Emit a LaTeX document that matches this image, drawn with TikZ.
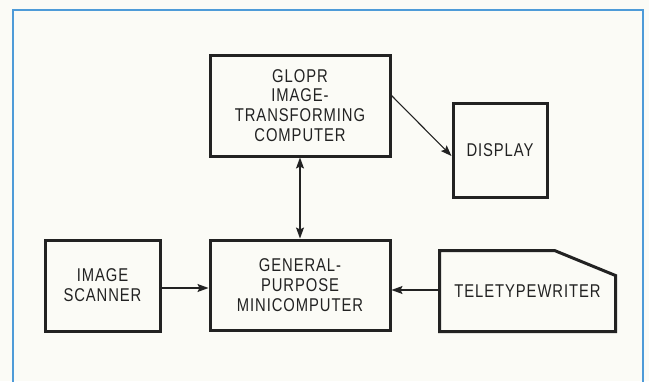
\documentclass[tikz,border=0pt]{standalone}
\usepackage{fontspec}
\setmainfont{Liberation Sans}[FakeStretch=0.8,LetterSpace=5]
\usetikzlibrary{arrows.meta,calc}
\definecolor{framebl}{HTML}{4E9BD8}
\definecolor{paper}{HTML}{FBFBF6}
\definecolor{ink}{HTML}{222222}
\tikzset{
  box/.style={draw=ink, line width=3pt, rectangle, align=center, text=ink,
    font=\fontsize{18.5}{19.8}\selectfont, inner sep=0pt},
  arr/.style={draw=ink, line width=1.1pt, -{Stealth[length=11pt,width=8pt,inset=2pt]}},
  darr/.style={draw=ink, line width=1.1pt, {Stealth[length=11pt,width=8pt,inset=2pt]}-{Stealth[length=11pt,width=8pt,inset=2pt]}}
}
\begin{document}
\begin{tikzpicture}[x=1pt,y=-1pt]
\useasboundingbox (0,0) rectangle (649,381);
\clip (0,0) rectangle (649,381);
\fill[paper] (0,0) rectangle (649,381);
\draw[framebl, line width=2.5pt] (13,10) rectangle (643,395);

\node[box, minimum width=180pt, minimum height=101pt] (glopr) at (300,105.5)
  {GLOPR\\IMAGE-\\TRANSFORMING\\COMPUTER};
\node[box, minimum width=94pt, minimum height=94pt] (display) at (500,150) {DISPLAY};
\node[box, minimum width=115pt, minimum height=91pt] (scanner) at (102.5,285.5) {IMAGE\\SCANNER};
\node[box, minimum width=180pt, minimum height=90pt] (gp) at (300,285)
  {GENERAL-\\PURPOSE\\MINICOMPUTER};
\node[box, draw=none, minimum width=173pt, minimum height=78pt] (tty) at (527.5,291) {TELETYPEWRITER};
\draw[ink, line width=3pt, line join=miter]
  (tty.south west) -- (tty.north west) -- ([xshift=-61pt]tty.north east)
  -- ([yshift=-25pt]tty.north east) -- (tty.south east) -- cycle;

\draw[arr] ([yshift=10pt]glopr.east) -- ([yshift=-6pt]display.west);
\draw[darr] (glopr.south) -- (gp.north);
\draw[arr] ([yshift=-2.5pt]scanner.east) -- ([yshift=-3pt]gp.west);
\draw[arr] ([yshift=1pt]tty.west) -- ([yshift=-5pt]gp.east);
\end{tikzpicture}
\end{document}
